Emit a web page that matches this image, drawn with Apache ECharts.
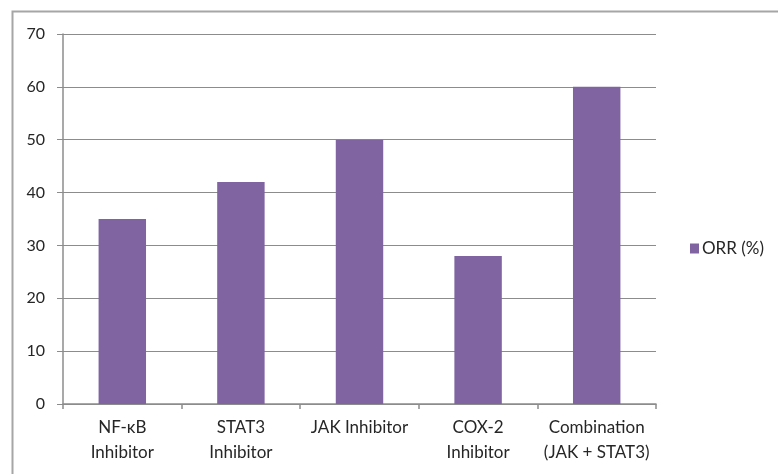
<!DOCTYPE html>
<html>
<head>
<meta charset="utf-8">
<script src="https://cdn.jsdelivr.net/npm/echarts@6/dist/echarts.min.js"></script>
<style>
  html, body { margin: 0; padding: 0; background: #ffffff; }
  #chart { width: 778px; height: 474px; }
</style>
</head>
<body>
<div id="chart"></div>
<script>
// Overall response rate by treatment
const categories = ['NF-\u03baB\nInhibitor', 'STAT3\nInhibitor', 'JAK Inhibitor', 'COX-2\nInhibitor', 'Combination\n(JAK + STAT3)'];
const orrValues = [35, 42, 50, 28, 60];
const seriesName = 'ORR (%)';
const yMin = 0, yMax = 70, yStep = 10;

const FONT = 'Lato, "Open Sans", sans-serif';
const TEXT = '#262626';
const LINE = '#8c8c8c';
const BAR = '#8064a2';

const chart = echarts.init(document.getElementById('chart'), null, { renderer: 'canvas' });
chart.setOption({
  animation: false,
  backgroundColor: '#ffffff',
  textStyle: { fontFamily: FONT },
  graphic: [{
    type: 'rect',
    shape: { x: 12.5, y: 11.5, width: 820, height: 520 },
    style: { fill: null, stroke: '#a6a6a6', lineWidth: 2 },
    silent: true
  }],
  grid: { left: 63, right: 122, top: 34, bottom: 70, containLabel: false },
  legend: {
    data: [seriesName],
    orient: 'vertical',
    left: 685,
    top: 235,
    itemWidth: 9,
    itemHeight: 10,
    itemGap: 6,
    icon: 'rect',
    textStyle: { fontFamily: FONT, fontSize: 17, color: TEXT, padding: [0, 0, 0, -2] }
  },
  xAxis: {
    type: 'category',
    data: categories,
    axisLine: { lineStyle: { color: LINE, width: 1.5 } },
    axisTick: { show: true, length: 5, inside: false, lineStyle: { color: LINE, width: 1.5 } },
    axisLabel: { color: TEXT, fontFamily: FONT, fontSize: 17, lineHeight: 25, margin: 11, interval: 0 }
  },
  yAxis: {
    type: 'value',
    min: yMin, max: yMax, interval: yStep,
    axisLine: { show: true, lineStyle: { color: LINE, width: 1.5 } },
    axisTick: { show: true, length: 6, lineStyle: { color: LINE, width: 1 } },
    splitLine: { show: true, lineStyle: { color: LINE, width: 1.2 } },
    axisLabel: { color: TEXT, fontFamily: FONT, fontSize: 16, margin: 18 }
  },
  series: [{
    name: seriesName,
    type: 'bar',
    data: orrValues,
    barWidth: '40%',
    itemStyle: { color: BAR }
  }]
});
</script>
</body>
</html>
